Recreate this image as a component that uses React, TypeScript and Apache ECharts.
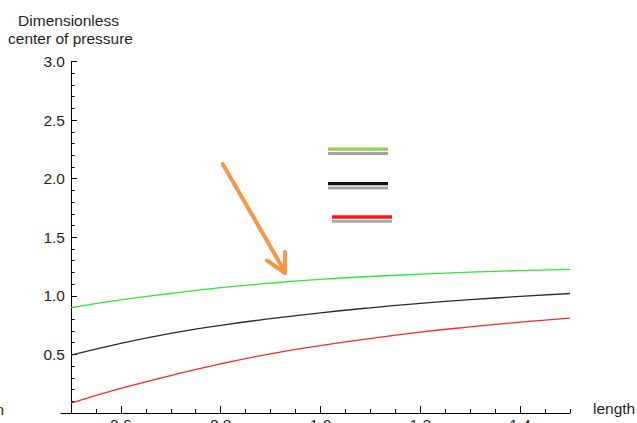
import React, { useEffect, useRef } from "react";
import * as echarts from "echarts";

const xValues = [0.5, 0.6, 0.7, 0.8, 0.9, 1.0, 1.1, 1.2, 1.3, 1.4, 1.5];
const greenValues = [0.9, 0.965, 1.02, 1.07, 1.108, 1.14, 1.165, 1.185, 1.202, 1.215, 1.226];
const blackValues = [0.494, 0.595, 0.68, 0.748, 0.805, 0.855, 0.898, 0.935, 0.967, 0.995, 1.02];
const redValues = [0.085, 0.21, 0.32, 0.42, 0.505, 0.575, 0.635, 0.69, 0.735, 0.775, 0.81];

const xMajorTicks = [0.6, 0.8, 1.0, 1.2, 1.4];
const xMinorTicks = [0.55, 0.6, 0.65, 0.7, 0.75, 0.8, 0.85, 0.9, 0.95, 1.0, 1.05, 1.1, 1.15, 1.2, 1.25, 1.3, 1.35, 1.4, 1.45, 1.5];

const yTitleLines = ["Dimensionless", "center of pressure"];
const xTitle = "length";

const FONT = "'Liberation Sans', Arial, sans-serif";
const TEXT = "#1f1f24";

export default function App() {
  const ref = useRef<HTMLDivElement>(null);

  useEffect(() => {
    if (!ref.current) return;
    const chart = echarts.init(ref.current, undefined, { renderer: "svg" });
    const pairs = (ys: number[]) => xValues.map((x, i) => [x, ys[i]]);
    const lineSeries = (name: string, ys: number[], color: string) => ({
      name,
      type: "line",
      xAxisIndex: 0,
      yAxisIndex: 0,
      data: pairs(ys),
      smooth: true,
      symbol: "none",
      lineStyle: { color, width: 1.3 },
      silent: true,
    });
    chart.setOption({
      animation: false,
      backgroundColor: "#ffffff",
      grid: {
        left: 61,
        top: 61.5,
        width: 509,
        height: 351.5,
        containLabel: false,
        outerBoundsMode: "none",
      },
      xAxis: [
        {
          type: "value",
          position: "bottom",
          min: 0.48,
          max: 1.5,
          axisLine: { show: true, onZero: false, lineStyle: { color: "#000", width: 1 } },
          axisTick: { show: true, inside: true, length: 4, customValues: xMinorTicks, lineStyle: { color: "#000" } },
          axisLabel: { show: false },
          splitLine: { show: false },
        },
        {
          type: "value",
          position: "bottom",
          min: 0.48,
          max: 1.5,
          axisLine: { show: false, onZero: false },
          axisTick: { show: true, inside: true, length: 7, customValues: xMajorTicks, lineStyle: { color: "#000" } },
          axisLabel: {
            show: true,
            customValues: xMajorTicks,
            formatter: (v: number) => v.toFixed(1),
            fontSize: 15.5,
            fontFamily: FONT,
            color: TEXT,
            margin: 3,
          },
          splitLine: { show: false },
        },
      ],
      yAxis: {
        type: "value",
        position: "left",
        offset: -10,
        min: 0,
        max: 3,
        interval: 0.5,
        axisLine: { show: true, onZero: false, lineStyle: { color: "#000", width: 1 } },
        axisTick: { show: true, inside: true, length: 6, lineStyle: { color: "#000" } },
        minorTick: { show: true, splitNumber: 5, length: 3.5, lineStyle: { color: "#000" } },
        axisLabel: {
          formatter: (v: number) => (v === 0 ? "" : v.toFixed(1)),
          fontSize: 15.5,
          fontFamily: FONT,
          color: TEXT,
          margin: 6,
        },
        splitLine: { show: false },
        minorSplitLine: { show: false },
      },
      series: [
        lineSeries("green", greenValues, "#2fe82f"),
        lineSeries("black", blackValues, "#2a2a2a"),
        lineSeries("red", redValues, "#f52a2a"),
      ],
      graphic: [
        {
          type: "text",
          x: 68.5,
          y: 20,
          style: { text: yTitleLines[0], fontSize: 15.5, fontFamily: FONT, fill: TEXT, align: "center", verticalAlign: "middle" },
        },
        {
          type: "text",
          x: 70.5,
          y: 38,
          style: { text: yTitleLines[1], fontSize: 15.5, fontFamily: FONT, fill: TEXT, align: "center", verticalAlign: "middle" },
        },
        {
          type: "text",
          x: 593,
          y: 408.5,
          style: { text: xTitle, fontSize: 15.5, fontFamily: FONT, fill: TEXT, align: "left", verticalAlign: "middle" },
        },
        {
          type: "text",
          x: 4,
          y: 409,
          style: { text: "n", fontSize: 15.5, fontFamily: FONT, fill: TEXT, align: "right", verticalAlign: "middle" },
        },
        { type: "rect", shape: { x: 328, y: 147.5, width: 60, height: 3.2 }, style: { fill: "#8fd14f" } },
        { type: "rect", shape: { x: 328, y: 152, width: 60, height: 3 }, style: { fill: "#a3a3a3" } },
        { type: "rect", shape: { x: 328, y: 182, width: 60, height: 3.3 }, style: { fill: "#111111" } },
        { type: "rect", shape: { x: 328, y: 186.5, width: 60, height: 3 }, style: { fill: "#a3a3a3" } },
        { type: "rect", shape: { x: 332, y: 215.3, width: 60, height: 3.4 }, style: { fill: "#ff1414" } },
        { type: "rect", shape: { x: 332, y: 220, width: 60, height: 2.8 }, style: { fill: "#a3a3a3" } },
        {
          type: "line",
          shape: { x1: 222.7, y1: 164, x2: 285, y2: 272 },
          style: { stroke: "#f79646", lineWidth: 4, lineCap: "round" },
        },
        {
          type: "polyline",
          shape: { points: [[267, 260.5], [285, 273], [285, 252]] },
          style: { stroke: "#f79646", lineWidth: 4, lineCap: "round", lineJoin: "round", fill: "none" },
        },
      ],
    });
    return () => chart.dispose();
  }, []);

  return (
    <div style={{ position: "fixed", left: 0, top: 0, width: 637, height: 423, overflow: "hidden", background: "#fff" }}>
      <div ref={ref} style={{ width: 637, height: 445 }} />
    </div>
  );
}
